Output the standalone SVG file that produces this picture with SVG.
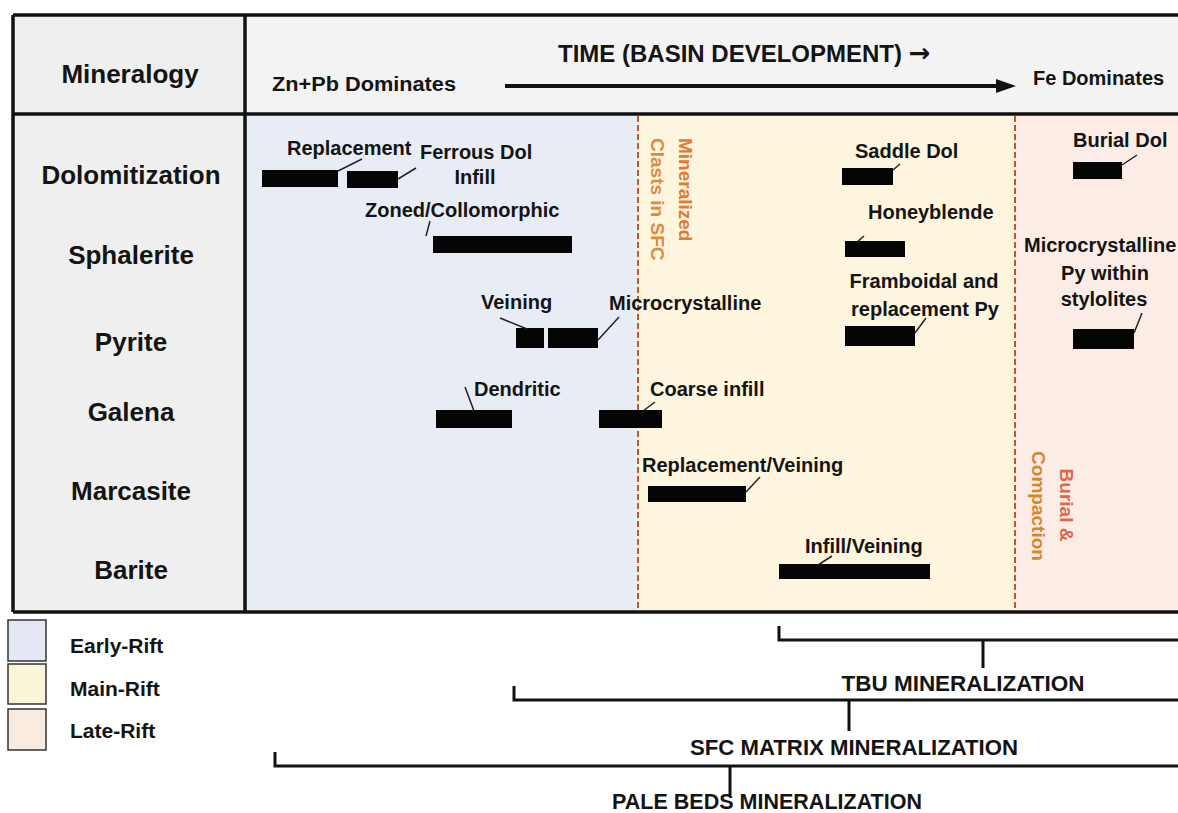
<svg xmlns="http://www.w3.org/2000/svg" width="1178" height="813" viewBox="0 0 1178 813">
<style>
text{font-family:"Liberation Sans",Arial,sans-serif;font-weight:bold;fill:#141414}
.row{font-size:26px;text-anchor:middle}
.lab{font-size:20px}
.mid{text-anchor:middle}
.bar{fill:#050505}
.lead{stroke:#222;stroke-width:1.5;fill:none}
.zone{font-size:19px}
.brk{stroke:#111;stroke-width:3;fill:none}
.ttl{font-size:22px;text-anchor:middle}
.frame{stroke:#111;stroke-width:3.5;fill:none}
.dash{stroke:#b95a28;stroke-width:2;stroke-dasharray:6 3;fill:none}
.leg{stroke:#333;stroke-width:1.5}
</style>
<rect width="1178" height="813" fill="#ffffff"/>
<g id="backgrounds">
<rect x="13" y="15" width="232" height="597" fill="#efefef"/>
<rect x="245" y="15" width="933" height="99" fill="#f3f3f3"/>
<rect x="245" y="114" width="393" height="498" fill="#e8ecf5"/>
<rect x="638" y="114" width="377" height="498" fill="#fdf5de"/>
<rect x="1015" y="114" width="163" height="498" fill="#fbede5"/>
</g>
<g id="frame">
<line class="frame" x1="13" y1="15" x2="1178" y2="15"/>
<line class="frame" x1="13" y1="114" x2="1178" y2="114"/>
<line class="frame" x1="13" y1="612" x2="1178" y2="612"/>
<line class="frame" x1="13" y1="15" x2="13" y2="612"/>
<line class="frame" x1="245" y1="15" x2="245" y2="612"/>
<line class="dash" x1="638" y1="116" x2="638" y2="610"/>
<line class="dash" x1="1015" y1="116" x2="1015" y2="610"/>
</g>
<g id="header">
<text x="130" y="83" style="font-size:26px" class="mid">Mineralogy</text>
<text x="558" y="62" style="font-size:24px">TIME (BASIN DEVELOPMENT) <tspan style="font-family:'DejaVu Sans',sans-serif;font-size:26px">→</tspan></text>
<text x="272" y="91" style="font-size:20px" textLength="184" lengthAdjust="spacingAndGlyphs">Zn+Pb Dominates</text>
<text x="1033" y="85" style="font-size:20px">Fe Dominates</text>
<line x1="505" y1="86" x2="1000" y2="86" stroke="#111" stroke-width="4"/>
<polygon points="996,79 1016,86 996,93" fill="#111"/>
</g>
<g id="rows">
<text class="row" x="131" y="184">Dolomitization</text>
<text class="row" x="131" y="264">Sphalerite</text>
<text class="row" x="131" y="351">Pyrite</text>
<text class="row" x="131" y="421">Galena</text>
<text class="row" x="131" y="500">Marcasite</text>
<text class="row" x="131" y="579">Barite</text>
</g>
<g id="zones">
<text class="zone" transform="translate(679,138) rotate(90)" style="fill:#e07b35">Mineralized</text>
<text class="zone" transform="translate(651,138) rotate(90)" style="fill:#e08a3e">Clasts in SFC</text>
<text class="zone mid" transform="translate(1060,505) rotate(90)" style="fill:#e0674a">Burial &amp;</text>
<text class="zone mid" transform="translate(1032,506) rotate(90)" style="fill:#d9852f">Compaction</text>
</g>
<g id="bars">
<g id="replacement"><rect class="bar" x="262" y="170" width="76" height="17"/><line class="lead" x1="338" y1="171" x2="362" y2="159"/><text class="lab" x="287" y="155">Replacement</text></g>
<g id="ferrous-dol"><rect class="bar" x="347" y="171" width="51" height="17"/><line class="lead" x1="398" y1="179" x2="416" y2="168"/><text class="lab" x="420" y="159">Ferrous Dol</text><text class="lab mid" x="475" y="184">Infill</text></g>
<g id="zoned"><rect class="bar" x="433" y="236" width="139" height="17"/><line class="lead" x1="426" y1="236" x2="430" y2="221"/><text class="lab" x="365" y="217">Zoned/Collomorphic</text></g>
<g id="veining"><rect class="bar" x="516" y="328" width="28" height="20"/><line class="lead" x1="500" y1="318" x2="527" y2="329"/><text class="lab" x="481" y="309">Veining</text></g>
<g id="microcrystalline"><rect class="bar" x="548" y="328" width="50" height="20"/><line class="lead" x1="598" y1="340" x2="619" y2="317"/><text class="lab" x="609" y="310">Microcrystalline</text></g>
<g id="dendritic"><rect class="bar" x="436" y="410" width="76" height="18"/><line class="lead" x1="465" y1="387" x2="474" y2="411"/><text class="lab" x="474" y="396">Dendritic</text></g>
<g id="coarse-infill"><rect class="bar" x="599" y="410" width="63" height="18"/><line class="lead" x1="643" y1="411" x2="655" y2="402"/><text class="lab" x="650" y="396">Coarse infill</text></g>
<g id="replacement-veining"><rect class="bar" x="648" y="486" width="98" height="16"/><line class="lead" x1="746" y1="492" x2="760" y2="477"/><text class="lab" x="642" y="472">Replacement/Veining</text></g>
<g id="infill-veining"><rect class="bar" x="779" y="564" width="151" height="15"/><line class="lead" x1="818" y1="565" x2="832" y2="556"/><text class="lab" x="805" y="553">Infill/Veining</text></g>
<g id="saddle-dol"><rect class="bar" x="842" y="168" width="51" height="17"/><line class="lead" x1="893" y1="170" x2="900" y2="164"/><text class="lab" x="855" y="158">Saddle Dol</text></g>
<g id="honeyblende"><rect class="bar" x="845" y="241" width="60" height="16"/><line class="lead" x1="856" y1="243" x2="864" y2="236"/><text class="lab" x="868" y="219">Honeyblende</text></g>
<g id="framboidal"><rect class="bar" x="845" y="326" width="70" height="20"/><line class="lead" x1="915" y1="333" x2="926" y2="318"/><text class="lab mid" x="924" y="288">Framboidal and</text><text class="lab mid" x="925" y="316">replacement Py</text></g>
<g id="burial-dol"><rect class="bar" x="1073" y="162" width="49" height="17"/><line class="lead" x1="1122" y1="165" x2="1137" y2="155"/><text class="lab" x="1073" y="147">Burial Dol</text></g>
<g id="stylolites"><rect class="bar" x="1073" y="329" width="61" height="20"/><line class="lead" x1="1134" y1="333" x2="1142" y2="313"/><text class="lab" x="1024" y="252">Microcrystalline</text><text class="lab mid" x="1105" y="280">Py within</text><text class="lab mid" x="1104" y="306">stylolites</text></g>
</g>
<g id="legend">
<rect class="leg" x="8" y="620" width="38" height="41" fill="#e4e8f4"/>
<rect class="leg" x="8" y="664" width="38" height="40" fill="#fbf5d8"/>
<rect class="leg" x="8" y="709" width="38" height="41" fill="#f9ebe0"/>
<text x="70" y="653" style="font-size:21px">Early-Rift</text>
<text x="70" y="696" style="font-size:21px">Main-Rift</text>
<text x="70" y="738" style="font-size:21px">Late-Rift</text>
</g>
<g id="connectors">
<path class="brk" d="M779,626 V640 H1178 M983,640 V668"/>
<path class="brk" d="M514,686 V700 H1178 M849,700 V731"/>
<path class="brk" d="M275,752 V766 H1178 M730,766 V795"/>
</g>
<g id="brackets-labels">
<text class="ttl" x="963" y="691" textLength="243" lengthAdjust="spacingAndGlyphs">TBU MINERALIZATION</text>
<text class="ttl" x="854" y="755" textLength="328" lengthAdjust="spacingAndGlyphs">SFC MATRIX MINERALIZATION</text>
<text class="ttl" x="767" y="809" textLength="310" lengthAdjust="spacingAndGlyphs">PALE BEDS MINERALIZATION</text>
</g>
</svg>
